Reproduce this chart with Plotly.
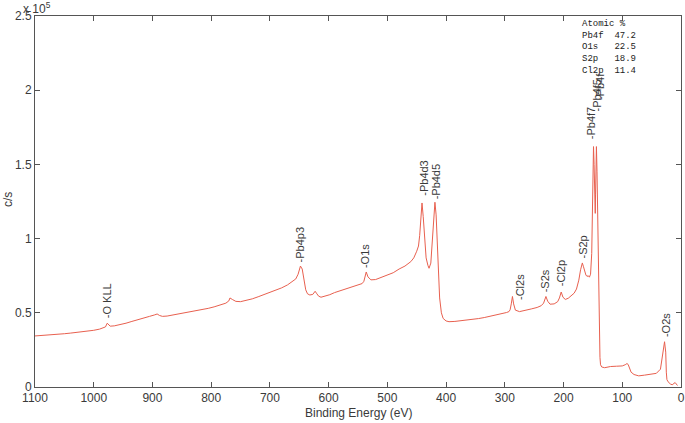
import plotly.graph_objects as go

# Binding energy (eV) and counts (x10^5 c/s)
energy = [1100, 1090, 1080, 1070, 1060, 1050, 1040, 1030, 1020, 1010, 1000, 990, 985, 980, 977, 975, 972,
          965, 955, 945, 935, 925, 915, 905, 897, 892, 888, 883, 875, 865, 855, 845, 835, 825, 815, 805, 795,
          785, 775, 770, 768, 764, 758, 750, 740, 730, 720, 710, 700, 690, 680, 670, 662, 656, 652, 650, 648,
          645, 642, 639, 636, 632, 627, 623, 620, 617, 613, 606, 598, 590, 580, 570, 560, 550, 543, 540, 538,
          536, 533, 528, 520, 510, 500, 490, 480, 470, 460, 455, 450, 447, 445, 443, 441, 439, 437, 434, 431,
          429, 426, 423, 421, 419, 417, 415, 413, 411, 408, 405, 400, 395, 385, 375, 365, 355, 345, 335, 325,
          315, 305, 297, 293, 291, 289, 287, 285, 282, 275, 265, 255, 245, 238, 234, 230, 227, 223, 216, 210,
          207, 204, 201, 197, 192, 187, 182, 178, 174, 171, 168, 166, 164, 162, 160, 158, 156, 154, 152, 151,
          150, 149, 148, 147, 146, 145.5, 145, 144, 143, 142, 141, 140, 139, 138, 137, 135, 130, 120, 110,
          100, 95, 92, 90, 88, 85, 80, 72, 62, 52, 42, 35, 30, 28, 27, 26, 25, 24, 22, 20, 18, 15, 10, 6, 3,
          1.5, 0.5]
counts = [0.344, 0.346, 0.349, 0.352, 0.355, 0.359, 0.363, 0.367, 0.371, 0.377, 0.382, 0.390, 0.396, 0.405,
          0.430, 0.422, 0.410, 0.412, 0.420, 0.430, 0.442, 0.455, 0.465, 0.476, 0.485, 0.492, 0.482, 0.476,
          0.478, 0.485, 0.492, 0.500, 0.508, 0.515, 0.523, 0.530, 0.540, 0.550, 0.565, 0.580, 0.600, 0.590,
          0.577, 0.575, 0.584, 0.594, 0.608, 0.622, 0.638, 0.652, 0.668, 0.688, 0.708, 0.728, 0.760, 0.800,
          0.815, 0.795, 0.720, 0.655, 0.628, 0.620, 0.624, 0.645, 0.628, 0.612, 0.605, 0.612, 0.622, 0.636,
          0.648, 0.663, 0.677, 0.688, 0.697, 0.712, 0.745, 0.775, 0.742, 0.722, 0.724, 0.738, 0.754, 0.770,
          0.795, 0.815, 0.845, 0.870, 0.915, 0.950, 1.020, 1.140, 1.240, 1.150, 1.000, 0.870, 0.820, 0.800,
          0.835, 0.990, 1.150, 1.245, 1.160, 0.960, 0.760, 0.600, 0.500, 0.462, 0.445, 0.440, 0.442, 0.446,
          0.450, 0.455, 0.461, 0.468, 0.476, 0.485, 0.494, 0.502, 0.508, 0.520, 0.560, 0.610, 0.560, 0.518,
          0.508, 0.515, 0.526, 0.536, 0.548, 0.565, 0.610, 0.578, 0.558, 0.560, 0.575, 0.600, 0.640, 0.605,
          0.590, 0.598, 0.612, 0.632, 0.660, 0.720, 0.790, 0.836, 0.810, 0.770, 0.755, 0.745, 0.750, 0.740,
          0.760, 0.900, 1.200, 1.450, 1.620, 1.500, 1.250, 1.170, 1.300, 1.500, 1.620, 1.450, 1.150, 1.080,
          0.800, 0.400, 0.200, 0.150, 0.135, 0.130, 0.138, 0.140, 0.142, 0.150, 0.158, 0.152, 0.125, 0.100,
          0.084, 0.075, 0.080, 0.086, 0.092, 0.120, 0.240, 0.305, 0.270, 0.235, 0.100, 0.050, 0.035, 0.025,
          0.020, 0.015, 0.030, 0.010]

x_ticks = [1100, 1000, 900, 800, 700, 600, 500, 400, 300, 200, 100, 0]
y_ticks = [0, 0.5, 1, 1.5, 2, 2.5]
y_tick_labels = ["0", "0.5", "1", "1.5", "2", "2.5"]

# Peak labels: text, energy position, label base (x10^5)
peak_names = ["-O KLL", "-Pb4p3", "-O1s", "-Pb4d3", "-Pb4d5", "-Cl2s", "-S2s", "-Cl2p", "-S2p",
              "-Pb4f7", "-Pb4f5", "-Pb4f", "-O2s"]
peak_energy = [977, 649, 538, 439, 417, 274, 232, 204, 167, 153, 143, 138, 25.5]
peak_base = [0.455, 0.835, 0.795, 1.28, 1.255, 0.58, 0.633, 0.674, 0.862, 1.664, 1.85, 1.93, 0.33]

atomic_names = ["Pb4f", "O1s", "S2p", "Cl2p"]
atomic_values = ["47.2", "22.5", "18.9", "11.4"]

LINE = "#e8604f"
AX = "#555555"
TXT = "#3a3a3a"
SANS = "Liberation Sans Narrow, Arial Narrow, Liberation Sans, Arial, sans-serif"

fig = go.Figure()
fig.add_trace(go.Scatter(x=energy, y=counts, mode="lines",
                         line=dict(color=LINE, width=1), hoverinfo="skip", showlegend=False))

W, H = 685, 423
ml, mr, mt, mb = 35, 4, 16, 36
pw, ph = W - ml - mr, H - mt - mb


def px(xp):
    return (xp - ml) / pw


def py(yp):
    return (H - mb - yp) / ph


annotations = []
for name, e, b in zip(peak_names, peak_energy, peak_base):
    annotations.append(dict(x=e, y=b, xref="x", yref="y", text=name, showarrow=False,
                            textangle=-90, xanchor="center", yanchor="bottom",
                            font=dict(family=SANS, size=11, color=TXT), borderpad=0))

nb = "\u00a0"
rows = ["Atomic" + nb + "%"]
for n, v in zip(atomic_names, atomic_values):
    rows.append(n + nb * (6 - len(n)) + v)
annotations.append(dict(x=px(580), y=py(17), xref="paper", yref="paper", text="<br>".join(rows),
                        showarrow=False, xanchor="left", yanchor="top", align="left",
                        font=dict(family="Liberation Mono, Courier New, monospace", size=9, color="#222")))

annotations.append(dict(x=px(21), y=py(8), xref="paper", yref="paper", text="x 10<sup>5</sup>",
                        showarrow=False, xanchor="left", yanchor="middle",
                        font=dict(family=SANS, size=12, color=TXT)))
annotations.append(dict(x=px(358), y=py(413), xref="paper", yref="paper", text="Binding Energy (eV)",
                        showarrow=False, xanchor="center", yanchor="middle",
                        font=dict(family=SANS, size=12, color=TXT)))
annotations.append(dict(x=px(8), y=py(200), xref="paper", yref="paper", text="c/s",
                        showarrow=False, xanchor="center", yanchor="middle", textangle=-90,
                        font=dict(family=SANS, size=12, color=TXT)))

fig.update_layout(
    width=W, height=H,
    margin=dict(l=ml, r=mr, t=mt, b=mb, pad=0, autoexpand=False),
    paper_bgcolor="white", plot_bgcolor="white",
    annotations=annotations,
    xaxis=dict(range=[1100, 0], tickvals=x_ticks, ticks="inside", ticklen=5, tickwidth=1,
               tickcolor=AX, showline=True, linecolor=AX, linewidth=1, mirror="ticks",
               showgrid=False, zeroline=False, automargin=False, ticklabeloverflow="allow",
               tickfont=dict(family=SANS, size=12, color=TXT)),
    yaxis=dict(range=[0, 2.5], tickvals=y_ticks, ticktext=y_tick_labels, ticks="inside", ticklen=5,
               tickwidth=1, tickcolor=AX, showline=True, linecolor=AX, linewidth=1, mirror="ticks",
               showgrid=False, zeroline=False, automargin=False,
               tickfont=dict(family=SANS, size=12, color=TXT)),
)

fig.write_html("out.html")
